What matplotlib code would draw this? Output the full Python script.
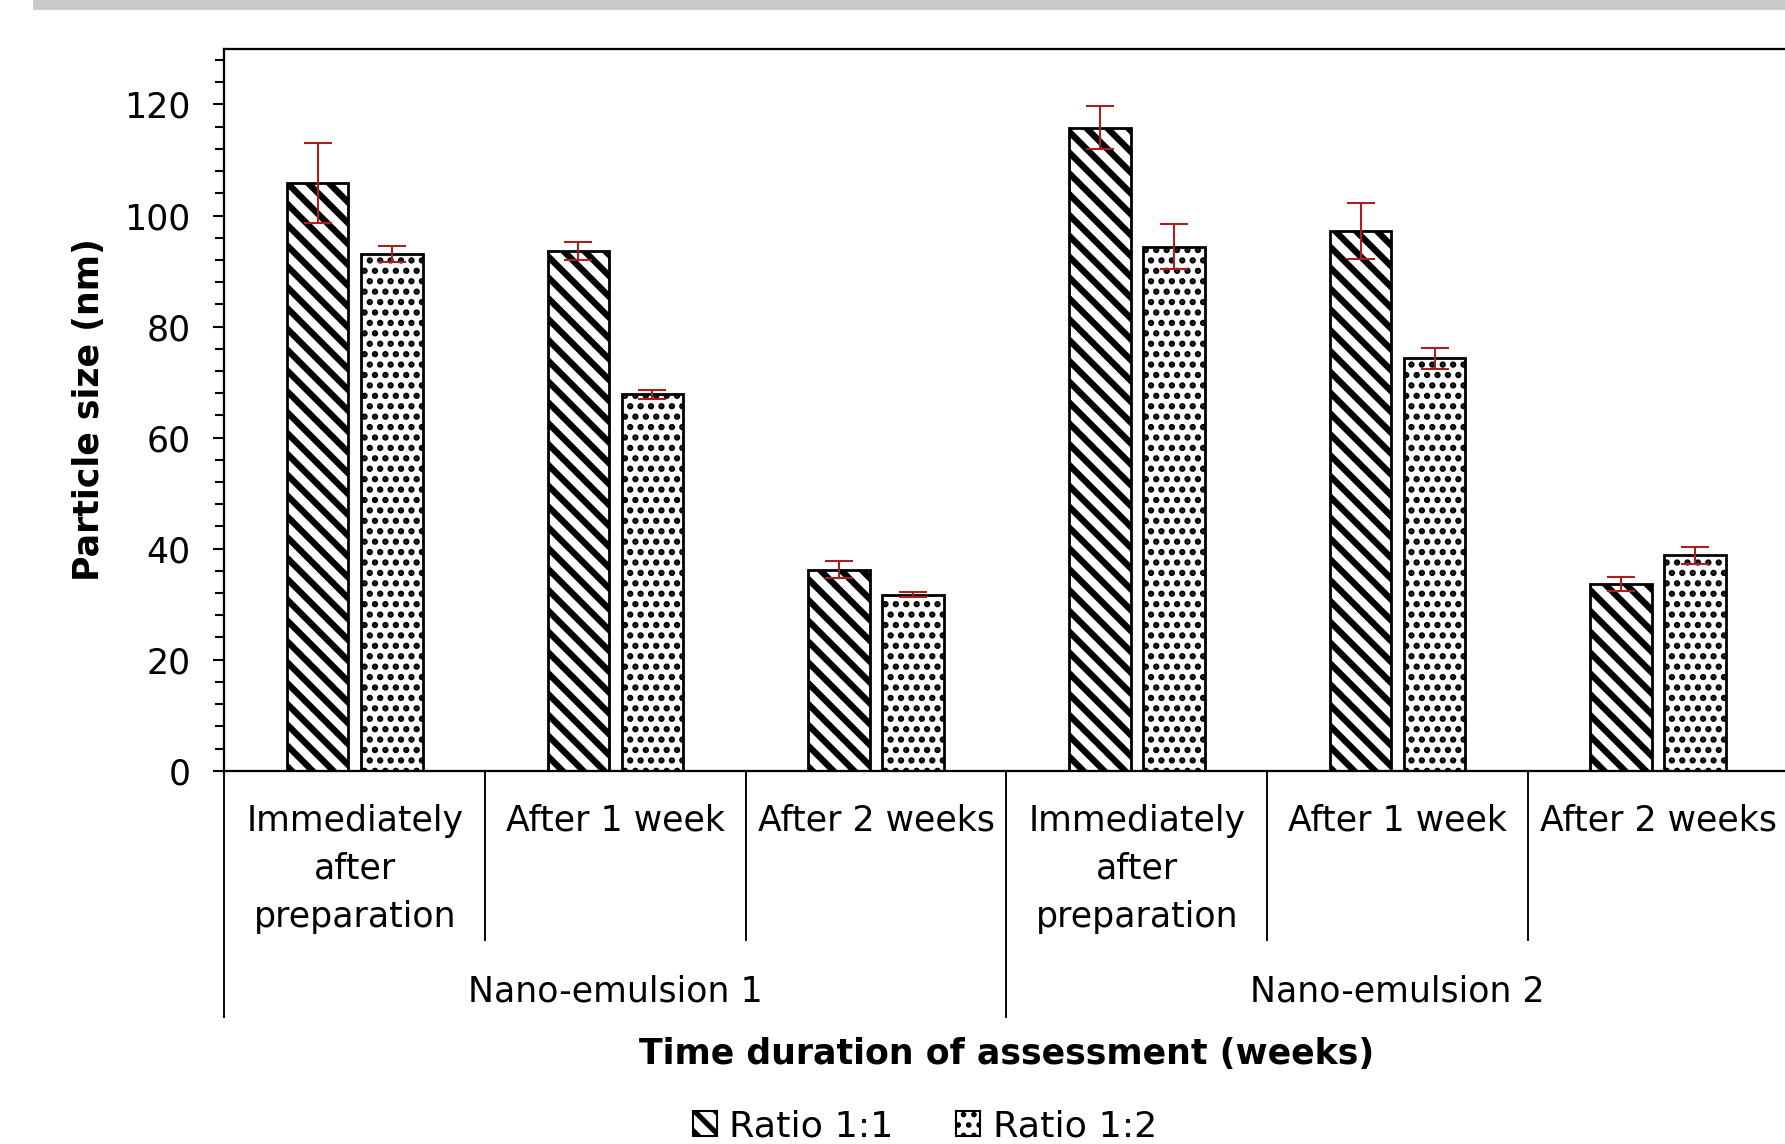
import numpy as np
import matplotlib
matplotlib.use('Agg')
import matplotlib.pyplot as plt
from matplotlib.patches import Patch, Rectangle

#%% data
groups = ['Nano-emulsion 1', 'Nano-emulsion 2']
times = ['Immediately\nafter\npreparation', 'After 1 week', 'After 2 weeks']
ratio_11 = [105.9, 93.6, 36.2, 115.8, 97.2, 33.6]
ratio_11_err = [7.2, 1.6, 1.5, 3.9, 5.1, 1.3]
ratio_12 = [93.1, 67.8, 31.7, 94.4, 74.3, 38.8]
ratio_12_err = [1.5, 0.8, 0.4, 4.0, 1.9, 1.5]
series_names = ['Ratio 1:1', 'Ratio 1:2']

plt.rcParams['font.family'] = ['DejaVu Sans']
FS = 20

#%% figure
fig = plt.figure(figsize=(14.28, 9.152), dpi=125)
fig.patches.append(Rectangle((34 / 1785, 1 - 9 / 1144), 1.0, 9 / 1144,
                             transform=fig.transFigure, color='#c9c9c9', zorder=0))
ax = fig.add_axes([0.1257, 0.3263, 0.8763, 0.6309])

x = np.arange(len(ratio_11))
w = 0.236
off = 0.142

def hatch_lw(patches, lw):
    for p in patches:
        if hasattr(p, 'set_hatch_linewidth'):
            p.set_hatch_linewidth(lw)

with plt.rc_context({'hatch.linewidth': 3.7}):
    b1 = ax.bar(x - off, ratio_11, w, facecolor='white', edgecolor='black',
                linewidth=1.6, hatch='\\\\', zorder=2)
hatch_lw(b1, 3.7)
with plt.rc_context({'hatch.linewidth': 2.4}):
    b2 = ax.bar(x + off, ratio_12, w, facecolor='white', edgecolor='black',
                linewidth=1.6, hatch='..', zorder=2)
hatch_lw(b2, 2.4)

ecol = '#a8201e'
ax.errorbar(x - off, ratio_11, yerr=ratio_11_err, fmt='none', ecolor=ecol,
            elinewidth=1.2, capsize=8, capthick=1.2, zorder=3)
ax.errorbar(x + off, ratio_12, yerr=ratio_12_err, fmt='none', ecolor=ecol,
            elinewidth=1.2, capsize=8, capthick=1.2, zorder=3)

ax.set_xlim(-0.5, 5.5)
ax.set_ylim(0, 130)
ax.set_yticks(np.arange(0, 121, 20))
ax.set_yticks(np.arange(0, 130, 4), minor=True)
ax.tick_params(axis='y', which='major', direction='out', length=6.5, width=1.2,
               labelsize=FS, pad=13)
ax.tick_params(axis='y', which='minor', direction='out', length=5, width=1.2)
ax.set_xticks([])
ax.spines['right'].set_visible(False)
for s in ['top', 'left', 'bottom']:
    ax.spines[s].set_linewidth(1.3)

#%% multi-level category axis
tr = ax.get_xaxis_transform()
for xv in [0.5, 1.5, 3.5, 4.5]:
    ax.plot([xv, xv], [0, -0.235], transform=tr, color='black', lw=1.1, clip_on=False)
for xv in [-0.5, 2.5]:
    ax.plot([xv, xv], [0, -0.341], transform=tr, color='black', lw=1.1, clip_on=False)

for i in range(len(x)):
    ax.text(x[i], -0.046, times[i % 3], transform=tr, ha='center', va='top',
            fontsize=FS, linespacing=1.52)
for g, name in enumerate(groups):
    ax.text(1 + 3 * g, -0.306, name, transform=tr, ha='center', va='center',
            fontsize=FS)

ax.text(2.5, -0.392, 'Time duration of assessment (weeks)', transform=tr,
        ha='center', va='center', fontsize=FS, fontweight='bold')
fig.text(0.05, 0.642, 'Particle size (nm)', rotation=90, ha='center', va='center',
         fontsize=FS, fontweight='bold')

handles = [Patch(facecolor='white', edgecolor='black', hatch='\\\\', lw=1.2),
           Patch(facecolor='white', edgecolor='black', hatch='..', lw=1.2)]
leg = fig.legend(handles, series_names, loc='center', bbox_to_anchor=(0.518, 0.0155),
                 ncol=2, frameon=False, fontsize=21, handlelength=0.66,
                 handleheight=0.66, handletextpad=0.35, columnspacing=1.7)
hatch_lw([leg.legend_handles[0]], 3.0)
hatch_lw([leg.legend_handles[1]], 2.0)

fig.savefig('out.png', dpi=125)
